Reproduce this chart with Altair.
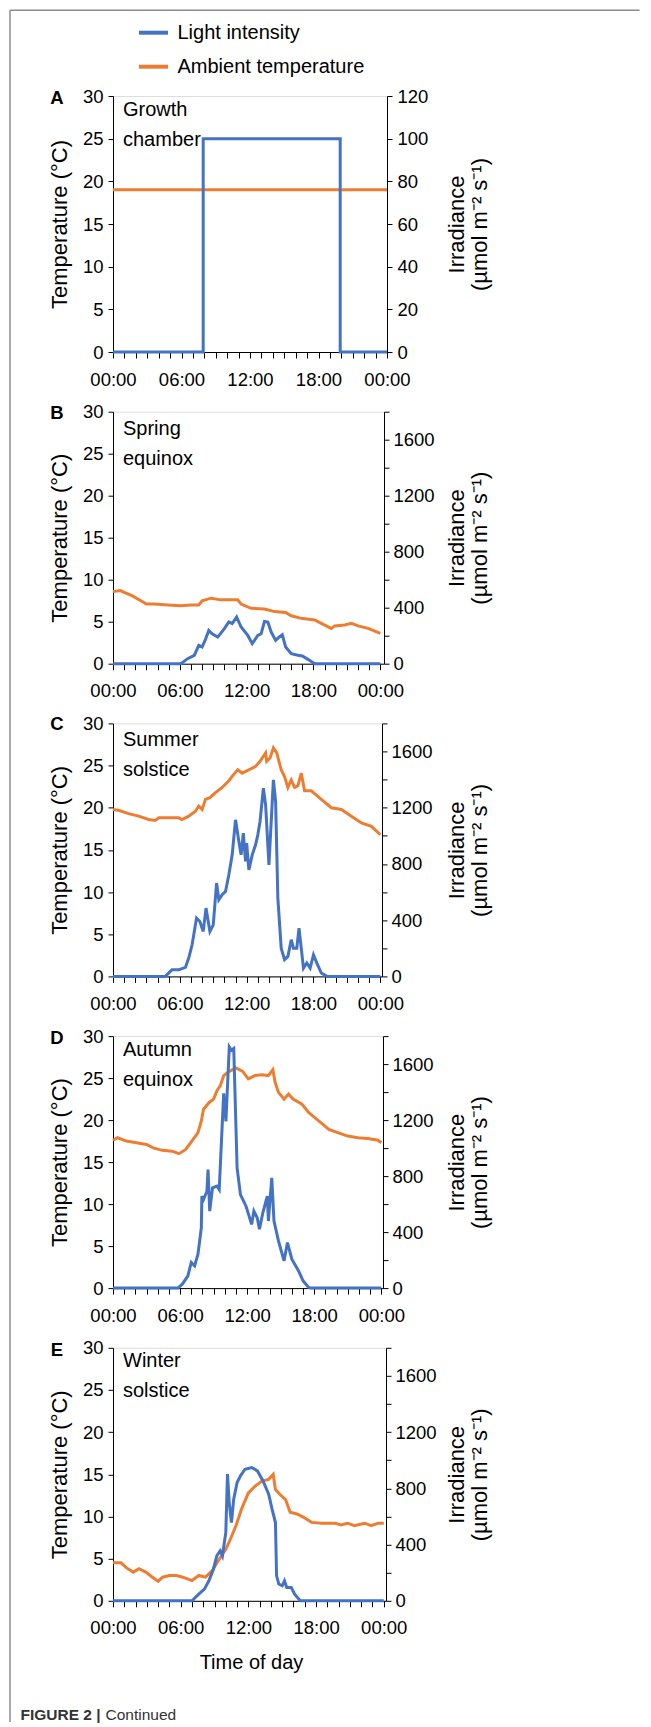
import altair as alt
import pandas as pd

BLUE = "#4472C4"
ORANGE = "#ED7D31"
FONT = "Liberation Sans, Arial, sans-serif"

# ---------------- data (hours of day, values) ----------------
# Panel A: growth chamber
A_temp_h = [0, 24]
A_temp_v = [19, 19]
A_light_h = [0, 7.9, 7.9, 19.9, 19.9, 24]
A_light_v = [0, 0, 100, 100, 0, 0]

# Panel B: spring equinox
B_temp_h = [0, 0.66, 1, 1.7, 2.5, 3, 3.7, 4.9, 6.1, 7, 7.7, 8, 8.8, 9.7, 10.9, 11.2, 11.5, 12.4, 13.6,
            14.5, 15.5, 16, 16.9, 18.1, 18.7, 19.6, 19.9, 20.8, 21.4, 22, 22.9, 24]
B_temp_v = [8.6, 8.7, 8.5, 8.1, 7.5, 7.1, 7.1, 7.0, 6.9, 7.0, 7.0, 7.5, 7.8, 7.6, 7.6, 7.6, 7.1, 6.6, 6.5,
            6.2, 6.1, 5.7, 5.4, 5.2, 4.8, 4.2, 4.5, 4.6, 4.8, 4.5, 4.2, 3.6]
B_light_h = [0, 6.1, 6.7, 7.3, 7.7, 8, 8.3, 8.6, 8.9, 9.4, 10, 10.4, 10.7, 11.1, 11.5, 12.1, 12.5, 13, 13.3,
             13.6, 13.9, 14.2, 14.6, 14.9, 15.2, 15.5, 16, 16.6, 17, 17.5, 18.1, 24]
B_light_v = [0, 0, 36, 60, 131, 119, 174, 238, 214, 190, 250, 298, 286, 333, 262, 202, 143, 202, 214,
             302, 298, 226, 167, 190, 207, 119, 71, 60, 55, 31, 0, 0]

# Panel C: summer solstice
C_temp_h = [0, 0.5, 1.4, 2.3, 3.2, 3.8, 4.1, 5, 5.9, 6.2, 6.8, 7.4, 7.7, 8, 8.3, 8.7, 9.2, 9.8, 10.4, 10.8,
            11.2, 11.6, 12.2, 12.8, 13.2, 13.7, 13.8, 14.1, 14.4, 14.7, 15.1, 15.4, 15.7, 16, 16.3, 16.6,
            16.9, 17.2, 17.8, 18.7, 19.6, 20.5, 21.4, 22.3, 23.2, 24]
C_temp_v = [19.8, 19.7, 19.3, 19.0, 18.6, 18.5, 18.8, 18.8, 18.8, 18.6, 19.0, 19.6, 20.2, 19.8, 21.0, 21.2,
            21.8, 22.4, 23.2, 23.9, 24.5, 24.1, 24.5, 24.9, 25.5, 26.5, 25.5, 25.9, 27.1, 26.5, 24.5, 23.7,
            22.4, 23.3, 22.4, 22.6, 24.1, 22.0, 22.0, 21.0, 20.0, 19.8, 19.0, 18.2, 17.8, 16.8]
C_light_h = [0, 4.7, 5.3, 5.9, 6.5, 6.8, 7.1, 7.5, 7.8, 8.1, 8.35, 8.7, 9, 9.3, 9.5, 9.8, 10.1, 10.4, 10.7,
             11, 11.3, 11.5, 11.7, 11.9, 12, 12.2, 12.5, 12.8, 13, 13.2, 13.5, 13.7, 14, 14.4, 14.6, 14.8,
             15.1, 15.4, 15.7, 16, 16.2, 16.5, 16.7, 16.9, 17.1, 17.4, 17.7, 18, 18.3, 18.7, 19.2, 24]
C_light_v = [0, 0, 47, 47, 64, 130, 225, 415, 391, 320, 486, 320, 367, 664, 545, 581, 604, 723, 865,
             1114, 960, 865, 1019, 818, 948, 758, 865, 936, 1007, 1102, 1339, 1221, 794, 1398, 1244, 557,
             201, 119, 142, 261, 201, 201, 344, 201, 59, 95, 59, 154, 95, 24, 0, 0]

# Panel D: autumn equinox
D_temp_h = [0, 0.4, 1.2, 2.1, 3, 3.6, 4.4, 5.3, 5.9, 6.5, 7.1, 7.6, 7.9, 8.1, 8.6, 9, 9.3, 9.6, 9.9, 10.4,
            11, 11.6, 12.1, 12.7, 13.3, 13.9, 14.3, 14.5, 14.8, 15.3, 15.7, 16.1, 16.9, 17.5, 18.4, 19.3,
            20.1, 21, 21.9, 22.8, 23.7, 24]
D_temp_v = [17.6, 17.9, 17.5, 17.3, 17.1, 16.7, 16.4, 16.3, 16.0, 16.5, 17.6, 18.5, 19.9, 21.3, 22.1, 22.5,
            23.5, 24.1, 25.3, 25.8, 26.2, 25.8, 24.9, 25.3, 25.4, 25.3, 26.0, 24.5, 23.3, 22.5, 23.1, 22.5,
            21.9, 20.9, 19.9, 18.9, 18.5, 18.1, 17.9, 17.8, 17.6, 17.3]
D_light_h = [0, 5.8, 6.2, 6.7, 7, 7.3, 7.6, 7.9, 7.95, 8.1, 8.4, 8.5, 8.65, 8.9, 9.3, 9.5, 9.7, 9.9, 10.1,
             10.4, 10.6, 10.8, 11.1, 11.4, 11.9, 12.4, 12.6, 12.9, 13.1, 13.4, 13.8, 13.9, 14.2, 14.4, 14.8,
             15.3, 15.6, 16, 16.6, 17, 17.5, 17.7, 24]
D_light_v = [0, 0, 28, 88, 183, 159, 242, 431, 657, 633, 692, 846, 550, 716, 728, 704, 1048, 1391, 1190,
             1723, 1699, 1711, 858, 668, 585, 455, 550, 502, 420, 538, 657, 479, 787, 479, 337,
             194, 325, 206, 123, 52, 5, 0, 0]

# Panel E: winter solstice
E_temp_h = [0, 0.7, 1.2, 1.8, 2.3, 2.9, 3.5, 4, 4.4, 5, 5.6, 6.2, 7, 7.6, 8.2, 8.8, 9.4, 10, 10.4, 10.9,
            11.4, 12, 12.6, 13.2, 13.8, 14.2, 14.4, 14.8, 15.3, 15.7, 16.3, 16.9, 17.6, 18.5, 19.7, 20.2,
            20.8, 21.4, 22.3, 22.9, 23.5, 24]
E_temp_v = [4.5, 4.5, 3.9, 3.4, 3.8, 3.4, 2.8, 2.3, 2.8, 3.0, 3.0, 2.8, 2.4, 3.0, 2.8, 3.6, 4.9, 6.1, 7.3,
            8.9, 10.9, 12.8, 13.6, 14.2, 14.4, 15.0, 13.2, 12.6, 12.0, 10.5, 10.3, 9.9, 9.3, 9.2, 9.2, 9.0,
            9.2, 8.9, 9.2, 8.9, 9.2, 9.2]
E_light_h = [0, 7, 7.6, 8.1, 8.5, 8.9, 9.2, 9.5, 9.7, 10, 10.15, 10.3, 10.5, 10.7, 11, 11.3, 11.7, 12.3,
             12.8, 13.3, 13.8, 14.1, 14.4, 14.5, 14.7, 15, 15.2, 15.4, 15.8, 16.1, 16.6, 24]
E_light_v = [0, 0, 47, 83, 142, 225, 320, 356, 320, 486, 901, 699, 557, 723, 841, 889, 936, 948,
             924, 853, 758, 652, 557, 178, 119, 107, 142, 95, 95, 47, 0, 0]

# text
letters = ["A", "B", "C", "D", "E"]
notes = ["Growth\nchamber", "Spring\nequinox", "Summer\nsolstice", "Autumn\nequinox", "Winter\nsolstice"]
legend_labels = ["Light intensity", "Ambient temperature"]
temp_title = "Temperature (°C)"
irr_title = ["Irradiance", "(µmol m⁻² s⁻¹)"]
x_title = "Time of day"
caption_bold = "FIGURE 2 |"
caption_rest = "Continued"

X_LABEL = ("datum.value % 6 == 0 ? ((datum.value % 24) < 10 ? '0' : '') + (datum.value % 24) + ':00' : ''")

PLOT_LEFT = 111.5          # page x of the plot's left edge
TICK_FS = 18.5


def xaxis(show_title):
    kw = dict(values=list(range(25)), labelExpr=X_LABEL, tickSize=6, labelPadding=12,
              domainColor="black", tickColor="black", labelColor="black", labelFont=FONT,
              labelFontSize=TICK_FS, labelFlush=False, labelOverlap=False, grid=False)
    if show_title:
        kw.update(title=x_title, titleFont=FONT, titleFontSize=20, titleFontWeight="normal",
                  titleColor="black", titleX=138, titleY=62, titleAlign="center",
                  titleBaseline="middle", titleAnchor="middle")
    else:
        kw.update(title=None)
    return alt.Axis(**kw)


def panel(i, th, tv, lh, lv, irr_max, irr_step, irr_lab, width, height, xmax, rlabpad, note_y, letter_y,
          show_xt=False, extra=()):
    tdf = pd.DataFrame({"h": th, "v": tv})
    ldf = pd.DataFrame({"h": lh, "v": lv})
    x = alt.X("h:Q", scale=alt.Scale(domain=[0, xmax], nice=False, zero=False), axis=xaxis(show_xt))
    temp = alt.Chart(tdf).mark_line(color=ORANGE, strokeWidth=3).encode(
        x=x,
        y=alt.Y("v:Q", scale=alt.Scale(domain=[0, 30], nice=False),
                axis=alt.Axis(values=list(range(0, 31, 5)), title=temp_title, tickSize=5, labelPadding=5,
                              domainColor="black", tickColor="black", labelColor="black",
                              labelFont=FONT, labelFontSize=TICK_FS, labelFlush=False, grid=False,
                              titleFont=FONT, titleFontSize=22, titleFontWeight="normal",
                              titleColor="black", titleAngle=270, titleX=58 - PLOT_LEFT,
                              titleY=height / 2, titleAlign="center", titleBaseline="middle")),
    )
    lab_expr = "datum.value %% %d == 0 ? '' + datum.value : ''" % irr_lab
    right_x = PLOT_LEFT + width
    light = alt.Chart(ldf).mark_line(color=BLUE, strokeWidth=3).encode(
        x=x,
        y=alt.Y("v:Q", scale=alt.Scale(domain=[0, irr_max], nice=False),
                axis=alt.Axis(orient="right", values=list(range(0, irr_max + 1, irr_step)),
                              labelExpr=lab_expr, title=irr_title, tickSize=5, labelPadding=rlabpad,
                              domainColor="black", tickColor="black", labelColor="black",
                              labelFont=FONT, labelFontSize=TICK_FS, labelFlush=False, labelOverlap=False,
                              grid=False, titleFont=FONT, titleFontSize=22, titleFontWeight="normal",
                              titleColor="black", titleAngle=270, titleLineHeight=23,
                              titleX=455 - right_x, titleY=height / 2, titleAlign="center",
                              titleBaseline="middle")),
    )
    one = pd.DataFrame({"t": [letters[i]], "n": [notes[i]]})
    letter = alt.Chart(one).mark_text(font=FONT, fontSize=18.5, fontWeight="bold", color="black",
                                      align="center", baseline="middle").encode(
        x=alt.value(55.5 - PLOT_LEFT), y=alt.value(letter_y), text="t:N")
    note = alt.Chart(one).mark_text(font=FONT, fontSize=20, color="black", align="left",
                                    baseline="middle", lineBreak="\n", lineHeight=30).encode(
        x=alt.value(10), y=alt.value(note_y), text="n:N")
    return alt.layer(temp, light, letter, note, *extra).resolve_scale(y="independent").properties(
        width=width, height=height)


# legend + frame drawn in panel A (coordinates relative to panel A's plot area)
k = pd.DataFrame({"k": [0]})
leg_lines = [
    alt.Chart(k).mark_rule(color=BLUE, strokeWidth=4).encode(
        x=alt.value(26), x2=alt.value(55), y=alt.value(-63.3)),
    alt.Chart(k).mark_rule(color=ORANGE, strokeWidth=4).encode(
        x=alt.value(26), x2=alt.value(55), y=alt.value(-29.3)),
]
leg_text = [
    alt.Chart(pd.DataFrame({"t": [legend_labels[0]]})).mark_text(
        font=FONT, fontSize=20, color="black", align="left", baseline="middle").encode(
        x=alt.value(64.5), y=alt.value(-63.3), text="t:N"),
    alt.Chart(pd.DataFrame({"t": [legend_labels[1]]})).mark_text(
        font=FONT, fontSize=20, color="black", align="left", baseline="middle").encode(
        x=alt.value(64.5), y=alt.value(-29.3), text="t:N"),
]
frame = [
    alt.Chart(k).mark_rule(color="#8c8c8c", strokeWidth=1.5).encode(
        x=alt.value(-103), x2=alt.value(526.5), y=alt.value(-85.8)),
    alt.Chart(k).mark_rule(color="#8c8c8c", strokeWidth=1.5).encode(
        x=alt.value(-103), y=alt.value(-85.8), y2=alt.value(1626)),
]
caption = [
    alt.Chart(pd.DataFrame({"t": [caption_bold]})).mark_text(
        font=FONT, fontSize=15.5, fontWeight="bold", color="#333333", align="left",
        baseline="middle").encode(x=alt.value(-92.5), y=alt.value(367), text="t:N"),
    alt.Chart(pd.DataFrame({"t": [caption_rest]})).mark_text(
        font=FONT, fontSize=15.5, color="#333333", align="left",
        baseline="middle").encode(x=alt.value(-7.5), y=alt.value(367), text="t:N"),
]

pA = panel(0, A_temp_h, A_temp_v, A_light_h, A_light_v, 120, 20, 20, 274, 256, 24, 5, 14, 2.4,
           extra=leg_lines + leg_text + frame)
pB = panel(1, B_temp_h, B_temp_v, B_light_h, B_light_v, 1800, 200, 400, 271, 252, 24.33, 4, 17, 1)
pC = panel(2, C_temp_h, C_temp_v, C_light_h, C_light_v, 1800, 200, 400, 269, 253, 24.15, 4, 17, 1)
pD = panel(3, D_temp_h, D_temp_v, D_light_h, D_light_v, 1800, 200, 400, 270, 252, 24.15, 4, 13.5, 1.5)
pE = panel(4, E_temp_h, E_temp_v, E_light_h, E_light_v, 1800, 200, 400, 273, 253, 24.2, 4, 13.5, 1.7,
           show_xt=True, extra=caption)

chart = alt.vconcat(pA, pB, pC, pD, pE, spacing=59.7, bounds="flush").properties(
    padding={"left": 0, "top": 0, "right": 0, "bottom": 0}
).configure_view(strokeWidth=0).configure(background="white")

chart.save("out.html", embed_options={"renderer": "svg", "actions": False})
